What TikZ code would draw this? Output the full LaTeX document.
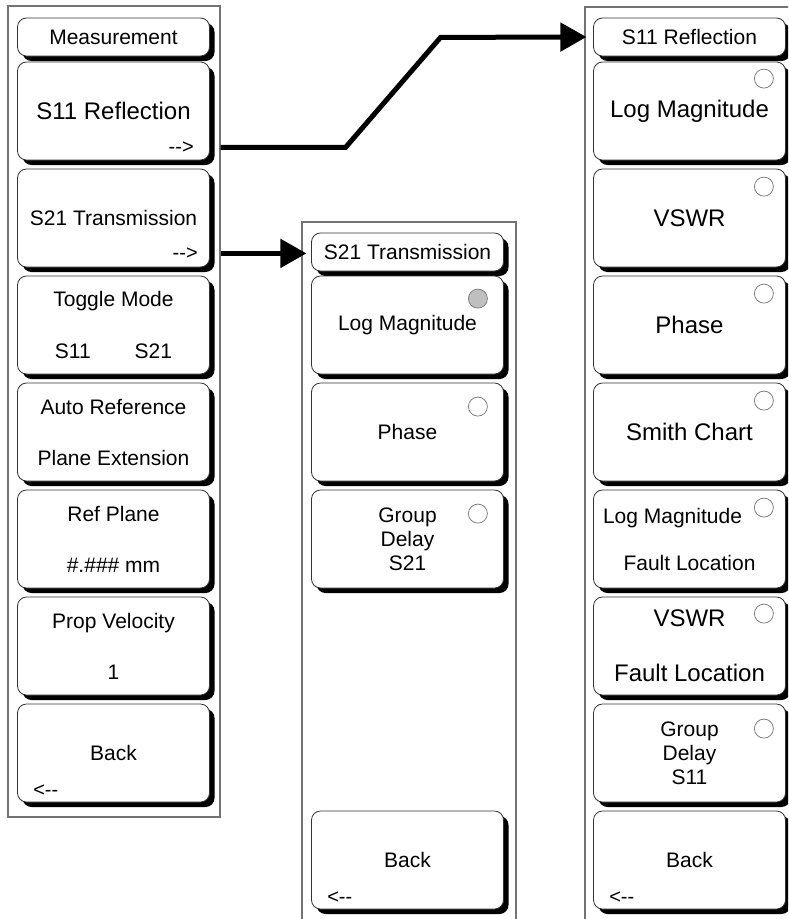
\documentclass[tikz,border=0pt]{standalone}
\usepackage{fontspec}
\setmainfont{Liberation Sans}
\usetikzlibrary{arrows.meta, positioning, calc, shadows}

\begin{document}
\begin{tikzpicture}[
    x=1pt, y=-1pt,
    panel/.style={draw=black!55, line width=1.1pt, inner sep=0pt},
    key/.style={draw=black!80, fill=white, line width=0.8pt, rounded corners=9pt,
                minimum width=192pt, minimum height=98pt, inner sep=0pt, align=center,
                font=\fontsize{21}{24}\selectfont,
                drop shadow={shadow xshift=5pt, shadow yshift=-5pt, fill=black, opacity=1}},
    titlekey/.style={key, minimum height=38pt},
    bigtxt/.style={font=\fontsize{24}{27}\selectfont},
    radio/.style={circle, draw=black!50, fill=white, minimum size=19pt, inner sep=0pt, line width=0.8pt},
    hint/.style={font=\fontsize{20}{22}\selectfont, inner sep=0pt},
    link/.style={line width=5pt, -{Triangle[length=26pt, width=28pt]}, line join=miter}
]
\useasboundingbox (0,0) rectangle (788,919);
\clip (0,0) rectangle (788,919);

% panels
\node[panel, minimum width=212pt, minimum height=811pt] (frameL) at (114,411.5) {};
\node[panel, minimum width=214pt, minimum height=720pt] (frameM) at (409,582) {};
\node[panel, minimum width=216pt, minimum height=940pt] (frameR) at (693,477) {};

% Measurement menu
\node[titlekey]     (measTitle)   at (113.5,37)  {Measurement};
\node[key, bigtxt]  (s11Btn)      at (113.5,111) {S11 Reflection};
\node[key]          (s21Btn)      at (113.5,218) {S21 Transmission};
\node[key]          (toggleBtn)   at (113.5,325) {Toggle Mode\\[28pt]S11\hspace{44pt}S21};
\node[key]          (autoRefBtn)  at (113.5,432) {Auto Reference\\[27pt]Plane Extension};
\node[key]          (refPlaneBtn) at (113.5,539) {Ref Plane\\[27pt]\#.\#\#\# mm};
\node[key]          (propVelBtn)  at (113.5,646) {Prop Velocity\\[27pt]1};
\node[key]          (backL)       at (113.5,753) {Back};
\node[hint, anchor=east] (s11Hint)   at ([shift={(-16,-13)}]s11Btn.south east) {-{}->};
\node[hint, anchor=east] (s21Hint)   at ([shift={(-12,-14)}]s21Btn.south east) {-{}->};
\node[hint, anchor=west] (backLHint) at ([shift={(16,-12)}]backL.south west) {<-{}-};

% S21 Transmission menu
\node[titlekey]     (titleM)      at (407.5,252) {S21 Transmission};
\node[key]          (logMagM)     at (407.5,325) {Log Magnitude};
\node[key]          (phaseM)      at (407.5,432) {Phase};
\node[key]          (grpDelayM)   at (407.5,539) {Group\\Delay\\S21};
\node[key]          (backM)       at (407.5,860) {Back};
\node[radio, fill=black!25] (logMagMRadio)   at ([shift={(-26,23)}]logMagM.north east) {};
\node[radio]                (phaseMRadio)    at ([shift={(-26,24)}]phaseM.north east) {};
\node[radio]                (grpDelayMRadio) at ([shift={(-26,24)}]grpDelayM.north east) {};
\node[hint, anchor=west] (backMHint) at ([shift={(16,-12)}]backM.south west) {<-{}-};

% S11 Reflection menu
\node[titlekey]     (titleR)      at (689.5,37)  {S11 Reflection};
\node[key, bigtxt]  (logMagR)     at (689.5,111) {Log Magnitude};
\node[key, bigtxt]  (vswrR)       at (689.5,218) {VSWR};
\node[key, bigtxt]  (phaseR)      at (689.5,325) {Phase};
\node[key, bigtxt]  (smithR)      at (689.5,432) {Smith Chart};
\node[key]          (logMagFltR)  at (689.5,539) {Log Magnitude\hspace*{34pt}\\[23pt]Fault Location};
\node[key, bigtxt]  (vswrFltR)    at (689.5,646) {VSWR\\[28pt]Fault Location};
\node[key]          (grpDelayR)   at (689.5,753) {Group\\Delay\\S11};
\node[key]          (backR)       at (689.5,860) {Back};
\node[radio] (logMagRRadio)    at ([shift={(-22,17)}]logMagR.north east) {};
\node[radio] (vswrRRadio)      at ([shift={(-22,18)}]vswrR.north east) {};
\node[radio] (phaseRRadio)     at ([shift={(-22,18)}]phaseR.north east) {};
\node[radio] (smithRRadio)     at ([shift={(-22,18)}]smithR.north east) {};
\node[radio] (logMagFltRRadio) at ([shift={(-22,18)}]logMagFltR.north east) {};
\node[radio] (vswrFltRRadio)   at ([shift={(-22,17)}]vswrFltR.north east) {};
\node[radio] (grpDelayRRadio)  at ([shift={(-22,25)}]grpDelayR.north east) {};
\node[hint, anchor=west] (backRHint) at ([shift={(16,-12)}]backR.south west) {<-{}-};

% links between menus
\draw[link, shorten >=-2pt] (s11Hint -| frameL.east) -- ++(125,0) -- ++(95,-110) -- (titleR -| frameR.west);
\draw[link, shorten >=-5pt] (s21Hint -| frameL.east) -- (s21Hint -| frameM.west);
\end{tikzpicture}
\end{document}
